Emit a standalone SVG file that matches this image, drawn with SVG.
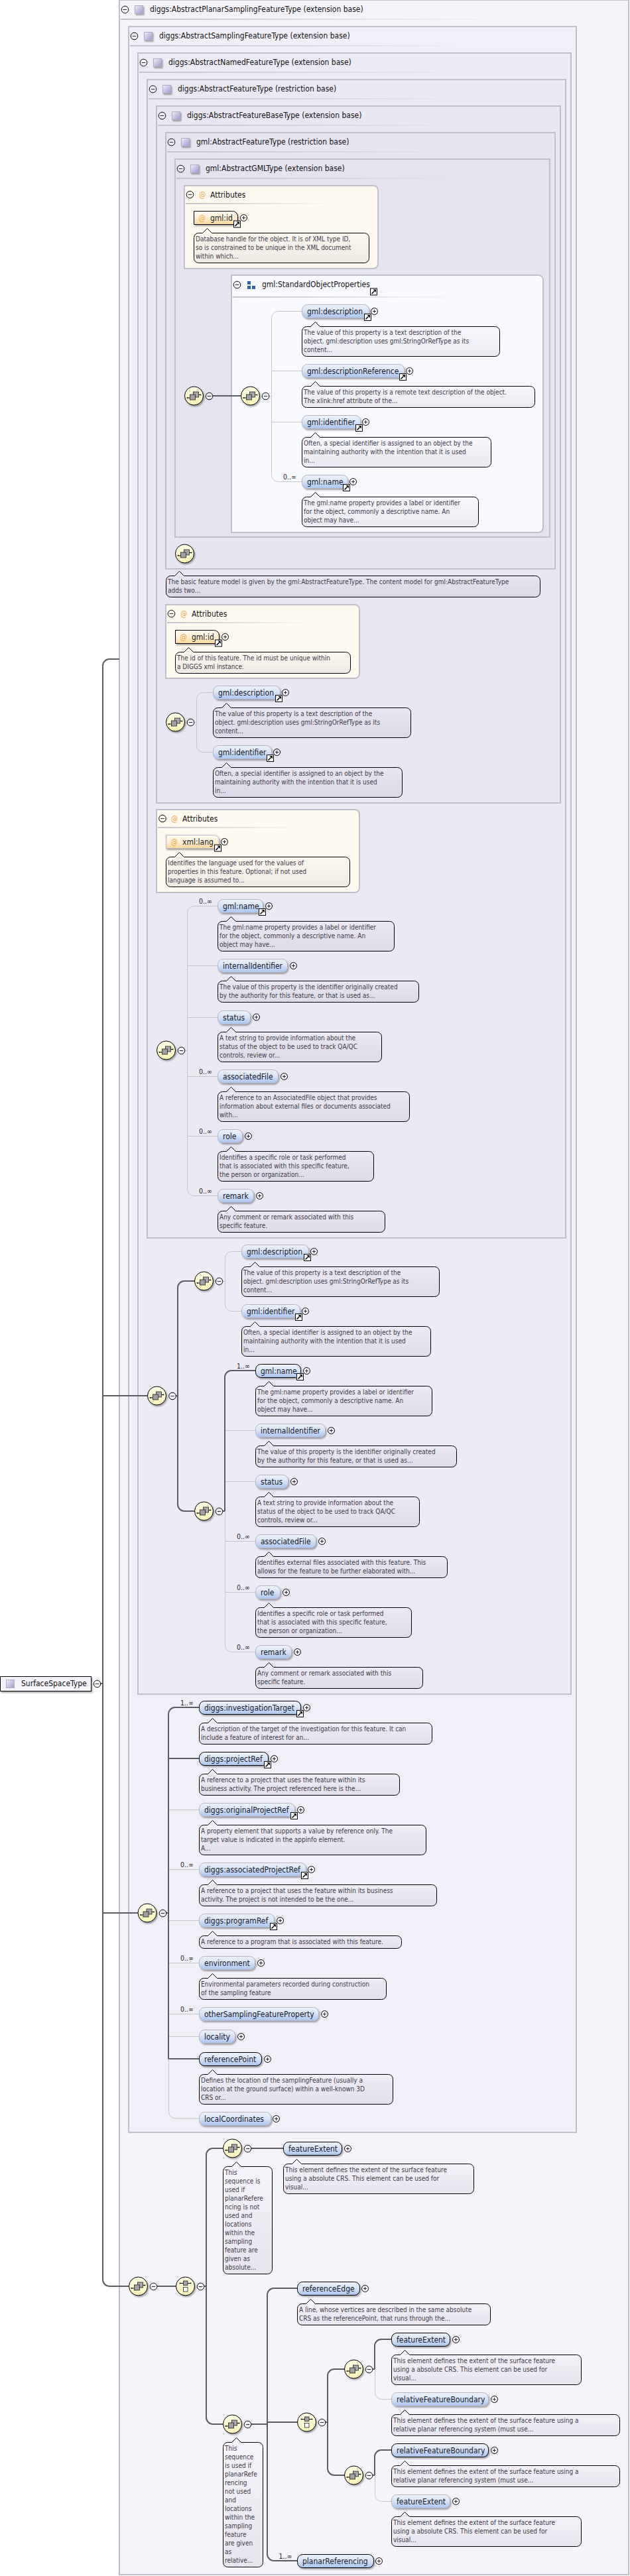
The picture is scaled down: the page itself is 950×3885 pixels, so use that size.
<svg xmlns="http://www.w3.org/2000/svg" width="950" height="3885" viewBox="0 0 950 3885">
<style>
text{font-family:"DejaVu Sans Condensed","DejaVu Sans",sans-serif}
.t{font-size:12px;fill:#111}
.l{font-size:12px;fill:#10182a}
.c{font-size:10px;fill:#3c3a48}
.m{font-size:10.5px;fill:#222}
.a{font-size:11.5px;fill:#f0a848}
.box{stroke:#c0bec6;stroke-width:2}
.r{fill:url(#ge);stroke:#000;stroke-width:1;filter:url(#s)}
.o{fill:url(#ge);stroke:#b4b4c0;stroke-width:1;filter:url(#s)}
.ra{fill:url(#ga);stroke:#000;stroke-width:1;filter:url(#s)}
.oa{fill:url(#ga);stroke:#b4b4c0;stroke-width:1;filter:url(#s)}
.b{fill:url(#gc);stroke:#000;stroke-width:1}
.sh{filter:url(#s)}
.d{fill:none;stroke:#5c5c64;stroke-width:2}
.g{fill:none;stroke:#c6c6c8;stroke-width:1}
</style>
<defs>
<filter id="s" x="-20%" y="-30%" width="150%" height="170%"><feDropShadow dx="1.5" dy="2" stdDeviation="1" flood-color="#000" flood-opacity=".35"/></filter>
<linearGradient id="ge" x1="0" y1="0" x2="0" y2="1"><stop offset="0" stop-color="#eef2fb"/><stop offset=".45" stop-color="#dbe5f7"/><stop offset="1" stop-color="#a9c4ee"/></linearGradient>
<linearGradient id="ga" x1="0" y1="0" x2="0" y2="1"><stop offset="0" stop-color="#fffcf4"/><stop offset=".5" stop-color="#ffefd4"/><stop offset="1" stop-color="#fdd69c"/></linearGradient>
<linearGradient id="gc" x1="0" y1="0" x2="0" y2="1"><stop offset="0" stop-color="#fff" stop-opacity=".12"/><stop offset="1" stop-color="#5a4a70" stop-opacity=".09"/></linearGradient>
<linearGradient id="gb" x1="0" y1="0" x2="0" y2="1"><stop offset="0" stop-color="#fdfde6"/><stop offset="1" stop-color="#f8f4b8"/></linearGradient>
<linearGradient id="gq" x1="0" y1="0" x2="1" y2="1"><stop offset="0" stop-color="#f2f0fa"/><stop offset="1" stop-color="#a094d0"/></linearGradient>
<linearGradient id="gl" x1="0" y1="0" x2="1" y2="0"><stop offset="0" stop-color="#c4c2ca"/><stop offset="1" stop-color="#c4c2ca" stop-opacity="0"/></linearGradient>
<g id="plus"><circle r="5" fill="#fff" fill-opacity=".3" stroke="#000"/><path d="M-2.5 0H2.5M0-2.5V2.5" stroke="#000" stroke-width=".8"/></g>
<g id="minus"><circle r="5.3" fill="#fff" fill-opacity=".3" stroke="#000"/><path d="M-2.8 0H2.8" stroke="#000" stroke-width=".8"/></g>
<g id="lk"><rect x="-5" y="-5" width="10" height="10" fill="#fff" stroke="#000"/><path d="M-3 3L1-1" stroke="#000" stroke-width="1.6"/><path d="M3.4-3.4H-1L3.4 1z" fill="#000"/></g>
<g id="sq"><rect x=".5" y=".5" width="12" height="12" fill="url(#gq)" stroke="#b0adbc"/></g>
<g id="seq"><circle r="14" fill="url(#gb)" stroke="#000"/><path d="M-10 3H-6M7-1.5H10" stroke="#000"/><rect x="-10.8" y="2.2" width="1.6" height="1.6"/><rect x="9.2" y="-2.3" width="1.6" height="1.6"/><rect x="-1" y="-6" width="8" height="8" fill="#a8a8a8" stroke="#222" stroke-width=".8"/><rect x="-6" y="-2" width="8" height="8" fill="#a0a0a0" stroke="#222" stroke-width=".8"/></g>
<g id="cho"><circle r="14" fill="url(#gb)" stroke="#000"/><path d="M-8-4.5H8" stroke="#000"/><rect x="-8.8" y="-5.3" width="1.6" height="1.6"/><rect x="7.2" y="-5.3" width="1.6" height="1.6"/><rect x="-3" y="-8" width="6.5" height="6.5" fill="#a0a0a0" stroke="#222" stroke-width=".8"/><rect x="-3" y="1.5" width="6.5" height="6.5" fill="#fff" stroke="#222" stroke-width=".8"/></g>
</defs>
<rect width="950" height="3885" fill="#fff"/>
<g id="type-boxes">
<g id="box-planar"><rect class="box" x="180" y="0" width="768" height="3883" fill="#f6f4fb"/><use href="#minus" x="188.5" y="14.5"/><use href="#sq" x="203" y="8" class="sh"/><text class="t" x="226" y="18">diggs:AbstractPlanarSamplingFeatureType (extension base)</text><rect x="182" y="28" width="577" height="2" fill="url(#gl)"/></g>
<g id="box-sampling"><rect class="box" x="194" y="40" width="675" height="3176" fill="#f1eff8"/><use href="#minus" x="202.5" y="54.5"/><use href="#sq" x="217" y="48" class="sh"/><text class="t" x="240" y="58">diggs:AbstractSamplingFeatureType (extension base)</text><rect x="196" y="68" width="507" height="2" fill="url(#gl)"/></g>
<g id="box-named"><rect class="box" x="208" y="80" width="653" height="2475" fill="#edebf6"/><use href="#minus" x="216.5" y="94.5"/><use href="#sq" x="231" y="88" class="sh"/><text class="t" x="254" y="98">diggs:AbstractNamedFeatureType (extension base)</text><rect x="210" y="108" width="490" height="2" fill="url(#gl)"/></g>
<g id="box-feature"><rect class="box" x="222" y="120" width="631" height="1747" fill="#ebe9f4"/><use href="#minus" x="230.5" y="134.5"/><use href="#sq" x="245" y="128" class="sh"/><text class="t" x="268" y="138">diggs:AbstractFeatureType (restriction base)</text><rect x="224" y="148" width="474" height="2" fill="url(#gl)"/></g>
<g id="box-base"><rect class="box" x="236" y="160" width="609" height="1051" fill="#e9e7f3"/><use href="#minus" x="244.5" y="174.5"/><use href="#sq" x="259" y="168" class="sh"/><text class="t" x="282" y="178">diggs:AbstractFeatureBaseType (extension base)</text><rect x="238" y="188" width="457" height="2" fill="url(#gl)"/></g>
<g id="box-gmlfeature"><rect class="box" x="250" y="200" width="587" height="658" fill="#e7e5f2"/><use href="#minus" x="258.5" y="214.5"/><use href="#sq" x="273" y="208" class="sh"/><text class="t" x="296" y="218">gml:AbstractFeatureType (restriction base)</text><rect x="252" y="228" width="427" height="2" fill="url(#gl)"/></g>
<g id="box-gml"><rect class="box" x="264" y="240" width="565" height="570" fill="#e5e3f0"/><use href="#minus" x="272.5" y="254.5"/><use href="#sq" x="287" y="248" class="sh"/><text class="t" x="310" y="258">gml:AbstractGMLType (extension base)</text><rect x="266" y="268" width="417" height="2" fill="url(#gl)"/></g>
<g id="attrs-gml"><path class="box" d="M278 280H563a7 7 0 0 1 7 7V398a7 7 0 0 1-7 7H278z" fill="#fffaf0"/><use href="#minus" x="286.5" y="293.5"/><text class="a" x="300" y="297.5">@</text><text class="t" x="317" y="297.5">Attributes</text><rect x="280" y="306" width="220" height="2" fill="url(#gl)"/></g>
<g id="attrs-base"><path class="box" d="M250 912H535a7 7 0 0 1 7 7V1016a7 7 0 0 1-7 7H250z" fill="#fffaf0"/><use href="#minus" x="258.5" y="925.5"/><text class="a" x="272" y="929.5">@</text><text class="t" x="289" y="929.5">Attributes</text><rect x="252" y="938" width="220" height="2" fill="url(#gl)"/></g>
<g id="attrs-feature"><path class="box" d="M236 1221H535a7 7 0 0 1 7 7V1339a7 7 0 0 1-7 7H236z" fill="#fffaf0"/><use href="#minus" x="245" y="1234.5"/><text class="a" x="258" y="1238.5">@</text><text class="t" x="275" y="1238.5">Attributes</text><rect x="238" y="1247" width="220" height="2" fill="url(#gl)"/></g>
<g id="group-sop"><path class="box" d="M349 415H812a7 7 0 0 1 7 7V796a7 7 0 0 1-7 7H349z" fill="#f9faff"/><use href="#minus" x="357.5" y="429.5"/><path d="M373 424h5v5h-5zM373 431h5v5h-5zM380 431h5v5h-5z" fill="#2a64b0"/><text class="t" x="395" y="433">gml:StandardObjectProperties</text><use href="#lk" x="563.5" y="440"/><rect x="351" y="447" width="352" height="2" fill="url(#gl)"/></g>
</g>
<g id="connectors">
<path class="d" d="M180 994H165a10 10 0 0 0-10 10V3438a10 10 0 0 0 10 10H194M151 2539H155M155 2105H222M155 2885H208"/>
<path class="d" d="M321 597H363"/>
<path class="g" d="M406 597.5H409.5M455 469.5H419.500a10 10 0 0 0-10 10V716.500a10 10 0 0 0 10 10H455M409.500 559.500H455M409.500 636.500H455"/>
<path class="g" d="M293 1089.500H296.500M321 1044.500H306.500a10 10 0 0 0-10 10V1124.500a10 10 0 0 0 10 10H321"/>
<path class="g" d="M278 1584.500H282.500M328 1366.500H292.500a10 10 0 0 0-10 10V1793.500a10 10 0 0 0 10 10H328M282.500 1456.500H328M282.500 1534.500H328M282.500 1623.500H328M282.500 1713.500H328"/>
<path class="d" d="M293.500 1932H278a10 10 0 0 0-10 10V2269a10 10 0 0 0 10 10H293.500M265 2105H268"/>
<path class="g" d="M336 1932.500H339.500M364 1887.500H349.500a10 10 0 0 0-10 10V1967.500a10 10 0 0 0 10 10H364"/>
<path class="d" d="M385 2067H349a10 10 0 0 0-10 10V2279M336 2279H339"/>
<path class="g" d="M339.500 2279V2481.500a10 10 0 0 0 10 10H385M340 2157.500H385M340 2234.500H385M340 2324.500H385M340 2401.500H385"/>
<path class="d" d="M300 2575H264a10 10 0 0 0-10 10V3105H300M254 2652H300M251 2885H254"/>
<path class="g" d="M254.500 3105V3185a10 10 0 0 0 10 10H300M255 2729.500H300M255 2819.500H300M255 2896.500H300M255 2960.500H300M255 3037.500H300M255 3071.500H300"/>
<path class="d" d="M237 3448H265M336 3240H321a10 10 0 0 0-10 10V3646a10 10 0 0 0 10 10H336M308 3448H311M379 3240H427"/>
<path class="d" d="M379 3656H403M448 3451H413a10 10 0 0 0-10 10V3852a10 10 0 0 0 10 10H448M403 3653H448"/>
<path class="d" d="M519 3573H504a10 10 0 0 0-10 10V3723a10 10 0 0 0 10 10H519M491 3653H494"/>
<path class="d" d="M590 3528H575a10 10 0 0 0-10 10V3573M562 3573H565M590 3695H575a10 10 0 0 0-10 10V3733M562 3733H565"/>
<path class="g" d="M565.500 3573V3608.500a10 10 0 0 0 10 10H590M565.500 3733V3762.500a10 10 0 0 0 10 10H590"/>
</g>
<g id="root-type"><rect x=".5" y="2528.500" width="137" height="22" fill="#f6f4fb" stroke="#000" class="sh"/><use href="#sq" x="9" y="2533"/><text class="t" x="32" y="2543">SurfaceSpaceType</text><use href="#minus" x="146.500" y="2539.500"/></g>
<g id="compositors">
<g id="seq-main"><use href="#seq" x="292.500" y="597" class="sh"/><use href="#minus" x="315.500" y="597.500"/></g>
<g id="seq-sop"><use href="#seq" x="377.500" y="597" class="sh"/><use href="#minus" x="400.500" y="597.500"/></g>
<g id="seq-gmlfeature"><use href="#seq" x="278.500" y="835" class="sh"/></g>
<g id="seq-base"><use href="#seq" x="264.500" y="1089" class="sh"/><use href="#minus" x="287.500" y="1089.500"/></g>
<g id="seq-feature"><use href="#seq" x="250.500" y="1584" class="sh"/><use href="#minus" x="273.500" y="1584.500"/></g>
<g id="seq-named"><use href="#seq" x="236.500" y="2105" class="sh"/><use href="#minus" x="260" y="2105.500"/></g>
<g id="seq-named-a"><use href="#seq" x="307.500" y="1932" class="sh"/><use href="#minus" x="330.500" y="1932.500"/></g>
<g id="seq-named-b"><use href="#seq" x="307.500" y="2279" class="sh"/><use href="#minus" x="330.500" y="2279.500"/></g>
<g id="seq-sampling"><use href="#seq" x="222" y="2885" class="sh"/><use href="#minus" x="245.500" y="2885.500"/></g>
<g id="seq-planar"><use href="#seq" x="208.500" y="3448" class="sh"/><use href="#minus" x="231.500" y="3448.500"/></g>
<g id="choice-planar"><use href="#cho" x="279.500" y="3448" class="sh"/><use href="#minus" x="302.500" y="3448.500"/></g>
<g id="seq-planar-a"><use href="#seq" x="350.500" y="3240" class="sh"/><use href="#minus" x="373.500" y="3240.500"/>
<path class="b" d="M343.500 3267.500h6l7-7 7 7h40a7 7 0 0 1 7 7v148a7 7 0 0 1-7 7h-60a7 7 0 0 1-7-7v-148a7 7 0 0 1 7-7z"/>
<text class="c" x="339" y="3280">This</text><text class="c" x="339" y="3293">sequence is</text><text class="c" x="339" y="3306">used if</text><text class="c" x="339" y="3319">planarRefere</text><text class="c" x="339" y="3332">ncing is not</text><text class="c" x="339" y="3345">used and</text><text class="c" x="339" y="3358">locations</text><text class="c" x="339" y="3371">within the</text><text class="c" x="339" y="3384">sampling</text><text class="c" x="339" y="3397">feature are</text><text class="c" x="339" y="3410">given as</text><text class="c" x="339" y="3423">absolute...</text></g>
<g id="seq-planar-b"><use href="#seq" x="350.500" y="3656" class="sh"/><use href="#minus" x="373.500" y="3656.500"/>
<path class="b" d="M343.500 3683.500h6l7-7 7 7h26a7 7 0 0 1 7 7v174a7 7 0 0 1-7 7h-46a7 7 0 0 1-7-7v-174a7 7 0 0 1 7-7z"/>
<text class="c" x="339" y="3696">This</text><text class="c" x="339" y="3709">sequence</text><text class="c" x="339" y="3722">is used if</text><text class="c" x="339" y="3735">planarRefe</text><text class="c" x="339" y="3748">rencing</text><text class="c" x="339" y="3761">not used</text><text class="c" x="339" y="3774">and</text><text class="c" x="339" y="3787">locations</text><text class="c" x="339" y="3800">within the</text><text class="c" x="339" y="3813">sampling</text><text class="c" x="339" y="3826">feature</text><text class="c" x="339" y="3839">are given</text><text class="c" x="339" y="3852">as</text><text class="c" x="339" y="3865">relative...</text></g>
<g id="choice-inner"><use href="#cho" x="462.500" y="3653" class="sh"/><use href="#minus" x="485.500" y="3653.500"/></g>
<g id="seq-inner-a"><use href="#seq" x="533.500" y="3573" class="sh"/><use href="#minus" x="556.500" y="3573.500"/></g>
<g id="seq-inner-b"><use href="#seq" x="533.500" y="3733" class="sh"/><use href="#minus" x="556.500" y="3733.500"/></g>
</g>
<g id="nodes">
<g id="attr-gmlid-1"><path class="ra" d="M292.500 318.500H350.500a8 8 0 0 1 8 8V338.500H292.500z"/><text class="a" x="299.500" y="332.500">@</text><text class="l" x="317" y="332.500">gml:id</text><use href="#plus" x="367.500" y="328.500"/><use href="#lk" x="357.500" y="338"/>
<path class="b" d="M299.500 351.500h6l7-7 7 7h230a7 7 0 0 1 7 7v31a7 7 0 0 1-7 7h-250a7 7 0 0 1-7-7v-31a7 7 0 0 1 7-7z"/><text class="c" x="295" y="364">Database handle for the object. It is of XML type ID,</text><text class="c" x="295" y="377">so is constrained to be unique in the XML document</text><text class="c" x="295" y="390">within which...</text></g>
<g id="sop-description"><rect class="o" x="455.500" y="459.500" width="101" height="20" rx="8"/><text class="l" x="463" y="473.500">gml:description</text><use href="#plus" x="564.500" y="469.500"/><use href="#lk" x="554.500" y="478.500"/>
<path class="b" d="M462.500 492.500h6l7-7 7 7h264a7 7 0 0 1 7 7v31a7 7 0 0 1-7 7h-284a7 7 0 0 1-7-7v-31a7 7 0 0 1 7-7z"/><text class="c" x="458" y="505">The value of this property is a text description of the</text><text class="c" x="458" y="518">object. gml:description uses gml:StringOrRefType as its</text><text class="c" x="458" y="531">content...</text></g>
<g id="sop-descriptionReference"><rect class="o" x="455.500" y="549.500" width="154" height="20" rx="8"/><text class="l" x="463" y="563.500">gml:descriptionReference</text><use href="#plus" x="617.500" y="559.500"/><use href="#lk" x="607.500" y="568.500"/>
<path class="b" d="M462.500 582.500h6l7-7 7 7h317a7 7 0 0 1 7 7v18a7 7 0 0 1-7 7h-337a7 7 0 0 1-7-7v-18a7 7 0 0 1 7-7z"/><text class="c" x="458" y="595">The value of this property is a remote text description of the object.</text><text class="c" x="458" y="608">The xlink:href attribute of the...</text></g>
<g id="sop-identifier"><rect class="o" x="455.500" y="626.500" width="88" height="20" rx="8"/><text class="l" x="463" y="640.500">gml:identifier</text><use href="#plus" x="551.500" y="636.500"/><use href="#lk" x="541.500" y="645.500"/>
<path class="b" d="M462.500 659.500h6l7-7 7 7h251a7 7 0 0 1 7 7v31a7 7 0 0 1-7 7h-271a7 7 0 0 1-7-7v-31a7 7 0 0 1 7-7z"/><text class="c" x="458" y="672">Often, a special identifier is assigned to an object by the</text><text class="c" x="458" y="685">maintaining authority with the intention that it is used</text><text class="c" x="458" y="698">in...</text></g>
<g id="sop-name"><text class="m" x="427" y="723">0..∞</text><rect class="o" x="455.500" y="716.500" width="69" height="20" rx="8"/><text class="l" x="463" y="730.500">gml:name</text><use href="#plus" x="532.500" y="726.500"/><use href="#lk" x="522.500" y="735.500"/>
<path class="b" d="M462.500 749.500h6l7-7 7 7h232a7 7 0 0 1 7 7v31a7 7 0 0 1-7 7h-252a7 7 0 0 1-7-7v-31a7 7 0 0 1 7-7z"/><text class="c" x="458" y="762">The gml:name property provides a label or identifier</text><text class="c" x="458" y="775">for the object, commonly a descriptive name. An</text><text class="c" x="458" y="788">object may have...</text></g>
<g id="comment-base"><path class="b" d="M257.500 868.500h6l7-7 7 7h530a7 7 0 0 1 7 7v18a7 7 0 0 1-7 7h-550a7 7 0 0 1-7-7v-18a7 7 0 0 1 7-7z"/><text class="c" x="253" y="881">The basic feature model is given by the gml:AbstractFeatureType. The content model for gml:AbstractFeatureType</text><text class="c" x="253" y="894">adds two...</text></g>
<g id="attr-gmlid-2"><path class="ra" d="M264.500 950.500H322.500a8 8 0 0 1 8 8V970.500H264.500z"/><text class="a" x="271.500" y="964.500">@</text><text class="l" x="289" y="964.500">gml:id</text><use href="#plus" x="339.500" y="960.500"/><use href="#lk" x="329.500" y="970"/>
<path class="b" d="M271.500 983.500h6l7-7 7 7h230a7 7 0 0 1 7 7v18a7 7 0 0 1-7 7h-250a7 7 0 0 1-7-7v-18a7 7 0 0 1 7-7z"/><text class="c" x="267" y="996">The id of this feature. The id must be unique within</text><text class="c" x="267" y="1009">a DIGGS xml instance.</text></g>
<g id="base-description"><rect class="o" x="321.500" y="1034.500" width="101" height="20" rx="8"/><text class="l" x="329" y="1048.500">gml:description</text><use href="#plus" x="430.500" y="1044.500"/><use href="#lk" x="420.500" y="1053.500"/>
<path class="b" d="M328.500 1067.500h6l7-7 7 7h264a7 7 0 0 1 7 7v31a7 7 0 0 1-7 7h-284a7 7 0 0 1-7-7v-31a7 7 0 0 1 7-7z"/><text class="c" x="324" y="1080">The value of this property is a text description of the</text><text class="c" x="324" y="1093">object. gml:description uses gml:StringOrRefType as its</text><text class="c" x="324" y="1106">content...</text></g>
<g id="base-identifier"><rect class="o" x="321.500" y="1124.500" width="88" height="20" rx="8"/><text class="l" x="329" y="1138.500">gml:identifier</text><use href="#plus" x="417.500" y="1134.500"/><use href="#lk" x="407.500" y="1143.500"/>
<path class="b" d="M328.500 1157.500h6l7-7 7 7h251a7 7 0 0 1 7 7v31a7 7 0 0 1-7 7h-271a7 7 0 0 1-7-7v-31a7 7 0 0 1 7-7z"/><text class="c" x="324" y="1170">Often, a special identifier is assigned to an object by the</text><text class="c" x="324" y="1183">maintaining authority with the intention that it is used</text><text class="c" x="324" y="1196">in...</text></g>
<g id="attr-xmllang"><path class="oa" d="M250.500 1259.500H322.500a8 8 0 0 1 8 8V1279.500H250.500z"/><text class="a" x="257.500" y="1273.500">@</text><text class="l" x="275" y="1273.500">xml:lang</text><use href="#plus" x="338.500" y="1269.500"/><use href="#lk" x="328.500" y="1279"/>
<path class="b" d="M257.500 1292.500h6l7-7 7 7h243a7 7 0 0 1 7 7v31a7 7 0 0 1-7 7h-263a7 7 0 0 1-7-7v-31a7 7 0 0 1 7-7z"/><text class="c" x="253" y="1305">Identifies the language used for the values of</text><text class="c" x="253" y="1318">properties in this feature. Optional; if not used</text><text class="c" x="253" y="1331">language is assumed to...</text></g>
<g id="feat-name"><text class="m" x="300" y="1363">0..∞</text><rect class="o" x="328.500" y="1356.500" width="68" height="20" rx="8"/><text class="l" x="336" y="1370.500">gml:name</text><use href="#plus" x="405.500" y="1366.500"/><use href="#lk" x="395.500" y="1375.500"/>
<path class="b" d="M335.500 1389.500h6l7-7 7 7h232a7 7 0 0 1 7 7v31a7 7 0 0 1-7 7h-252a7 7 0 0 1-7-7v-31a7 7 0 0 1 7-7z"/><text class="c" x="331" y="1402">The gml:name property provides a label or identifier</text><text class="c" x="331" y="1415">for the object, commonly a descriptive name. An</text><text class="c" x="331" y="1428">object may have...</text></g>
<g id="feat-internalIdentifier"><rect class="o" x="328.500" y="1446.500" width="105" height="20" rx="8"/><text class="l" x="336" y="1460.500">internalIdentifier</text><use href="#plus" x="442.500" y="1456.500"/>
<path class="b" d="M335.500 1479.500h6l7-7 7 7h269a7 7 0 0 1 7 7v18a7 7 0 0 1-7 7h-289a7 7 0 0 1-7-7v-18a7 7 0 0 1 7-7z"/><text class="c" x="331" y="1492">The value of this property is the identifier originally created</text><text class="c" x="331" y="1505">by the authority for this feature, or that is used as...</text></g>
<g id="feat-status"><rect class="o" x="328.500" y="1524.500" width="49" height="20" rx="8"/><text class="l" x="336" y="1538.500">status</text><use href="#plus" x="386.500" y="1534"/>
<path class="b" d="M335.500 1556.500h6l7-7 7 7h213a7 7 0 0 1 7 7v31a7 7 0 0 1-7 7h-233a7 7 0 0 1-7-7v-31a7 7 0 0 1 7-7z"/><text class="c" x="331" y="1569">A text string to provide information about the</text><text class="c" x="331" y="1582">status of the object to be used to track QA/QC</text><text class="c" x="331" y="1595">controls, review or...</text></g>
<g id="feat-associatedFile"><text class="m" x="300" y="1620">0..∞</text><rect class="o" x="328.500" y="1613.500" width="91" height="20" rx="8"/><text class="l" x="336" y="1627.500">associatedFile</text><use href="#plus" x="428.500" y="1623.500"/>
<path class="b" d="M335.500 1646.500h6l7-7 7 7h255a7 7 0 0 1 7 7v31a7 7 0 0 1-7 7h-275a7 7 0 0 1-7-7v-31a7 7 0 0 1 7-7z"/><text class="c" x="331" y="1659">A reference to an AssociatedFile object that provides</text><text class="c" x="331" y="1672">information about external files or documents associated</text><text class="c" x="331" y="1685">with...</text></g>
<g id="feat-role"><text class="m" x="300" y="1710">0..∞</text><rect class="o" x="328.500" y="1703.500" width="37" height="20" rx="8"/><text class="l" x="336" y="1717.500">role</text><use href="#plus" x="374.500" y="1713.500"/>
<path class="b" d="M335.500 1736.500h6l7-7 7 7h201a7 7 0 0 1 7 7v31a7 7 0 0 1-7 7h-221a7 7 0 0 1-7-7v-31a7 7 0 0 1 7-7z"/><text class="c" x="331" y="1749">Identifies a specific role or task performed</text><text class="c" x="331" y="1762">that is associated with this specific feature,</text><text class="c" x="331" y="1775">the person or organization...</text></g>
<g id="feat-remark"><text class="m" x="300" y="1800">0..∞</text><rect class="o" x="328.500" y="1793.500" width="54" height="20" rx="8"/><text class="l" x="336" y="1807.500">remark</text><use href="#plus" x="391.500" y="1803.500"/>
<path class="b" d="M335.500 1826.500h6l7-7 7 7h218a7 7 0 0 1 7 7v18a7 7 0 0 1-7 7h-238a7 7 0 0 1-7-7v-18a7 7 0 0 1 7-7z"/><text class="c" x="331" y="1839">Any comment or remark associated with this</text><text class="c" x="331" y="1852">specific feature.</text></g>
<g id="named-description"><rect class="o" x="364.500" y="1877.500" width="101" height="20" rx="8"/><text class="l" x="372" y="1891.500">gml:description</text><use href="#plus" x="473.500" y="1887.500"/><use href="#lk" x="463.500" y="1896.500"/>
<path class="b" d="M371.500 1910.500h6l7-7 7 7h264a7 7 0 0 1 7 7v31a7 7 0 0 1-7 7h-284a7 7 0 0 1-7-7v-31a7 7 0 0 1 7-7z"/><text class="c" x="367" y="1923">The value of this property is a text description of the</text><text class="c" x="367" y="1936">object. gml:description uses gml:StringOrRefType as its</text><text class="c" x="367" y="1949">content...</text></g>
<g id="named-identifier"><rect class="o" x="364.500" y="1967.500" width="88" height="20" rx="8"/><text class="l" x="372" y="1981.500">gml:identifier</text><use href="#plus" x="460.500" y="1977.500"/><use href="#lk" x="450.500" y="1986.500"/>
<path class="b" d="M371.500 2000.500h6l7-7 7 7h251a7 7 0 0 1 7 7v31a7 7 0 0 1-7 7h-271a7 7 0 0 1-7-7v-31a7 7 0 0 1 7-7z"/><text class="c" x="367" y="2013">Often, a special identifier is assigned to an object by the</text><text class="c" x="367" y="2026">maintaining authority with the intention that it is used</text><text class="c" x="367" y="2039">in...</text></g>
<g id="named-name"><text class="m" x="357" y="2064">1..∞</text><rect class="r" x="385.500" y="2057.500" width="68" height="20" rx="8"/><text class="l" x="393" y="2071.500">gml:name</text><use href="#plus" x="462.500" y="2067.500"/><use href="#lk" x="452.500" y="2076.500"/>
<path class="b" d="M392.500 2090.500h6l7-7 7 7h232a7 7 0 0 1 7 7v31a7 7 0 0 1-7 7h-252a7 7 0 0 1-7-7v-31a7 7 0 0 1 7-7z"/><text class="c" x="388" y="2103">The gml:name property provides a label or identifier</text><text class="c" x="388" y="2116">for the object, commonly a descriptive name. An</text><text class="c" x="388" y="2129">object may have...</text></g>
<g id="named-internalIdentifier"><rect class="o" x="385.500" y="2147.500" width="105" height="20" rx="8"/><text class="l" x="393" y="2161.500">internalIdentifier</text><use href="#plus" x="499.500" y="2157.500"/>
<path class="b" d="M392.500 2180.500h6l7-7 7 7h269a7 7 0 0 1 7 7v18a7 7 0 0 1-7 7h-289a7 7 0 0 1-7-7v-18a7 7 0 0 1 7-7z"/><text class="c" x="388" y="2193">The value of this property is the identifier originally created</text><text class="c" x="388" y="2206">by the authority for this feature, or that is used as...</text></g>
<g id="named-status"><rect class="o" x="385.500" y="2224.500" width="49" height="20" rx="8"/><text class="l" x="393" y="2238.500">status</text><use href="#plus" x="443.500" y="2234.500"/>
<path class="b" d="M392.500 2257.500h6l7-7 7 7h213a7 7 0 0 1 7 7v31a7 7 0 0 1-7 7h-233a7 7 0 0 1-7-7v-31a7 7 0 0 1 7-7z"/><text class="c" x="388" y="2270">A text string to provide information about the</text><text class="c" x="388" y="2283">status of the object to be used to track QA/QC</text><text class="c" x="388" y="2296">controls, review or...</text></g>
<g id="named-associatedFile"><text class="m" x="357" y="2321">0..∞</text><rect class="o" x="385.500" y="2314.500" width="91" height="20" rx="8"/><text class="l" x="393" y="2328.500">associatedFile</text><use href="#plus" x="485.500" y="2324.500"/>
<path class="b" d="M392.500 2347.500h6l7-7 7 7h255a7 7 0 0 1 7 7v18a7 7 0 0 1-7 7h-275a7 7 0 0 1-7-7v-18a7 7 0 0 1 7-7z"/><text class="c" x="388" y="2360">Identifies external files associated with this feature. This</text><text class="c" x="388" y="2373">allows for the feature to be further elaborated with...</text></g>
<g id="named-role"><text class="m" x="357" y="2398">0..∞</text><rect class="o" x="385.500" y="2391.500" width="37" height="20" rx="8"/><text class="l" x="393" y="2405.500">role</text><use href="#plus" x="431.500" y="2401.500"/>
<path class="b" d="M392.500 2424.500h6l7-7 7 7h201a7 7 0 0 1 7 7v31a7 7 0 0 1-7 7h-221a7 7 0 0 1-7-7v-31a7 7 0 0 1 7-7z"/><text class="c" x="388" y="2437">Identifies a specific role or task performed</text><text class="c" x="388" y="2450">that is associated with this specific feature,</text><text class="c" x="388" y="2463">the person or organization...</text></g>
<g id="named-remark"><text class="m" x="357" y="2488">0..∞</text><rect class="o" x="385.500" y="2481.500" width="54" height="20" rx="8"/><text class="l" x="393" y="2495.500">remark</text><use href="#plus" x="448.500" y="2491.500"/>
<path class="b" d="M392.500 2514.500h6l7-7 7 7h218a7 7 0 0 1 7 7v18a7 7 0 0 1-7 7h-238a7 7 0 0 1-7-7v-18a7 7 0 0 1 7-7z"/><text class="c" x="388" y="2527">Any comment or remark associated with this</text><text class="c" x="388" y="2540">specific feature.</text></g>
<g id="investigationTarget"><text class="m" x="272" y="2572">1..∞</text><rect class="r" x="300.500" y="2565.500" width="153" height="20" rx="8"/><text class="l" x="308" y="2579.500">diggs:investigationTarget</text><use href="#plus" x="462.500" y="2575.500"/><use href="#lk" x="452.500" y="2584.500"/>
<path class="b" d="M307.500 2598.500h6l7-7 7 7h317a7 7 0 0 1 7 7v18a7 7 0 0 1-7 7h-337a7 7 0 0 1-7-7v-18a7 7 0 0 1 7-7z"/><text class="c" x="303" y="2611">A description of the target of the investigation for this feature. It can</text><text class="c" x="303" y="2624">include a feature of interest for an...</text></g>
<g id="projectRef"><rect class="r" x="300.500" y="2642.500" width="104" height="20" rx="8"/><text class="l" x="308" y="2656.500">diggs:projectRef</text><use href="#plus" x="413.500" y="2652.500"/><use href="#lk" x="403.500" y="2661.500"/>
<path class="b" d="M307.500 2675.500h6l7-7 7 7h268a7 7 0 0 1 7 7v18a7 7 0 0 1-7 7h-288a7 7 0 0 1-7-7v-18a7 7 0 0 1 7-7z"/><text class="c" x="303" y="2688">A reference to a project that uses the feature within its</text><text class="c" x="303" y="2701">business activity. The project referenced here is the...</text></g>
<g id="originalProjectRef"><rect class="o" x="300.500" y="2719.500" width="144" height="20" rx="8"/><text class="l" x="308" y="2733.500">diggs:originalProjectRef</text><use href="#plus" x="453.500" y="2729.500"/><use href="#lk" x="443.500" y="2738.500"/>
<path class="b" d="M307.500 2752.500h6l7-7 7 7h308a7 7 0 0 1 7 7v31a7 7 0 0 1-7 7h-328a7 7 0 0 1-7-7v-31a7 7 0 0 1 7-7z"/><text class="c" x="303" y="2765">A property element that supports a value by reference only. The</text><text class="c" x="303" y="2778">target value is indicated in the appinfo element.</text><text class="c" x="303" y="2791">A...</text></g>
<g id="associatedProjectRef"><text class="m" x="272" y="2816">0..∞</text><rect class="o" x="300.500" y="2809.500" width="161" height="20" rx="8"/><text class="l" x="308" y="2823.500">diggs:associatedProjectRef</text><use href="#plus" x="469.500" y="2819.500"/><use href="#lk" x="459.500" y="2828.500"/>
<path class="b" d="M307.500 2842.500h6l7-7 7 7h324a7 7 0 0 1 7 7v18a7 7 0 0 1-7 7h-344a7 7 0 0 1-7-7v-18a7 7 0 0 1 7-7z"/><text class="c" x="303" y="2855">A reference to a project that uses the feature within its business</text><text class="c" x="303" y="2868">activity. The project is not intended to be the one...</text></g>
<g id="programRef"><rect class="o" x="300.500" y="2886.500" width="113" height="20" rx="8"/><text class="l" x="308" y="2900.500">diggs:programRef</text><use href="#plus" x="422.500" y="2896.500"/><use href="#lk" x="412.500" y="2905.500"/>
<path class="b" d="M307.500 2919.500h6l7-7 7 7h271a7 7 0 0 1 7 7v5a7 7 0 0 1-7 7h-291a7 7 0 0 1-7-7v-5a7 7 0 0 1 7-7z"/><text class="c" x="303" y="2932">A reference to a program that is associated with this feature.</text></g>
<g id="environment"><text class="m" x="272" y="2957">0..∞</text><rect class="o" x="300.500" y="2950.500" width="84" height="20" rx="8"/><text class="l" x="308" y="2964.500">environment</text><use href="#plus" x="393.500" y="2960.500"/>
<path class="b" d="M307.500 2983.500h6l7-7 7 7h248a7 7 0 0 1 7 7v18a7 7 0 0 1-7 7h-268a7 7 0 0 1-7-7v-18a7 7 0 0 1 7-7z"/><text class="c" x="303" y="2996">Environmental parameters recorded during construction</text><text class="c" x="303" y="3009">of the sampling feature</text></g>
<g id="otherSamplingFeatureProperty"><text class="m" x="272" y="3034">0..∞</text><rect class="o" x="300.500" y="3027.500" width="180" height="20" rx="8"/><text class="l" x="308" y="3041.500">otherSamplingFeatureProperty</text><use href="#plus" x="489.500" y="3037.500"/></g>
<g id="locality"><rect class="o" x="300.500" y="3061.500" width="54" height="20" rx="8"/><text class="l" x="308" y="3075.500">locality</text><use href="#plus" x="363.500" y="3071.500"/></g>
<g id="referencePoint"><rect class="r" x="300.500" y="3095.500" width="94" height="20" rx="8"/><text class="l" x="308" y="3109.500">referencePoint</text><use href="#plus" x="403.500" y="3105.500"/>
<path class="b" d="M307.500 3128.500h6l7-7 7 7h258a7 7 0 0 1 7 7v31a7 7 0 0 1-7 7h-278a7 7 0 0 1-7-7v-31a7 7 0 0 1 7-7z"/><text class="c" x="303" y="3141">Defines the location of the samplingFeature (usually a</text><text class="c" x="303" y="3154">location at the ground surface) within a well-known 3D</text><text class="c" x="303" y="3167">CRS or...</text></g>
<g id="localCoordinates"><rect class="o" x="300.500" y="3185.500" width="108" height="20" rx="8"/><text class="l" x="308" y="3199.500">localCoordinates</text><use href="#plus" x="416.500" y="3195.500"/></g>
<g id="featureExtent-a"><rect class="r" x="427.500" y="3230.500" width="88" height="20" rx="8"/><text class="l" x="435" y="3244.500">featureExtent</text><use href="#plus" x="524.500" y="3240.500"/>
<path class="b" d="M434.500 3263.500h6l7-7 7 7h253a7 7 0 0 1 7 7v31a7 7 0 0 1-7 7h-273a7 7 0 0 1-7-7v-31a7 7 0 0 1 7-7z"/><text class="c" x="430" y="3276">This element defines the extent of the surface feature</text><text class="c" x="430" y="3289">using a absolute CRS. This element can be used for</text><text class="c" x="430" y="3302">visual...</text></g>
<g id="referenceEdge"><rect class="r" x="448.500" y="3441.500" width="94" height="20" rx="8"/><text class="l" x="456" y="3455.500">referenceEdge</text><use href="#plus" x="550.500" y="3451.500"/>
<path class="b" d="M455.500 3474.500h6l7-7 7 7h257a7 7 0 0 1 7 7v18a7 7 0 0 1-7 7h-277a7 7 0 0 1-7-7v-18a7 7 0 0 1 7-7z"/><text class="c" x="451" y="3487">A line, whose vertices are described in the same absolute</text><text class="c" x="451" y="3500">CRS as the referencePoint, that runs through the...</text></g>
<g id="featureExtent-b"><rect class="r" x="590.500" y="3518.500" width="88" height="20" rx="8"/><text class="l" x="598" y="3532.500">featureExtent</text><use href="#plus" x="687.500" y="3528.500"/>
<path class="b" d="M597.500 3551.500h6l7-7 7 7h252a7 7 0 0 1 7 7v31a7 7 0 0 1-7 7h-272a7 7 0 0 1-7-7v-31a7 7 0 0 1 7-7z"/><text class="c" x="593" y="3564">This element defines the extent of the surface feature</text><text class="c" x="593" y="3577">using a absolute CRS. This element can be used for</text><text class="c" x="593" y="3590">visual...</text></g>
<g id="relativeFeatureBoundary-a"><rect class="o" x="590.500" y="3608.500" width="146" height="20" rx="8"/><text class="l" x="598" y="3622.500">relativeFeatureBoundary</text><use href="#plus" x="745.500" y="3618.500"/>
<path class="b" d="M597.500 3641.500h6l7-7 7 7h310a7 7 0 0 1 7 7v18a7 7 0 0 1-7 7h-330a7 7 0 0 1-7-7v-18a7 7 0 0 1 7-7z"/><text class="c" x="593" y="3654">This element defines the extent of the surface feature using a</text><text class="c" x="593" y="3667">relative planar referencing system (must use...</text></g>
<g id="relativeFeatureBoundary-b"><rect class="r" x="590.500" y="3685.500" width="146" height="20" rx="8"/><text class="l" x="598" y="3699.500">relativeFeatureBoundary</text><use href="#plus" x="745.500" y="3695.500"/>
<path class="b" d="M597.500 3718.500h6l7-7 7 7h310a7 7 0 0 1 7 7v18a7 7 0 0 1-7 7h-330a7 7 0 0 1-7-7v-18a7 7 0 0 1 7-7z"/><text class="c" x="593" y="3731">This element defines the extent of the surface feature using a</text><text class="c" x="593" y="3744">relative planar referencing system (must use...</text></g>
<g id="featureExtent-c"><rect class="o" x="590.500" y="3762.500" width="88" height="20" rx="8"/><text class="l" x="598" y="3776.500">featureExtent</text><use href="#plus" x="687.500" y="3772.500"/>
<path class="b" d="M597.500 3795.500h6l7-7 7 7h252a7 7 0 0 1 7 7v31a7 7 0 0 1-7 7h-272a7 7 0 0 1-7-7v-31a7 7 0 0 1 7-7z"/><text class="c" x="593" y="3808">This element defines the extent of the surface feature</text><text class="c" x="593" y="3821">using a absolute CRS. This element can be used for</text><text class="c" x="593" y="3834">visual...</text></g>
<g id="planarReferencing"><text class="m" x="420.500" y="3859">1..∞</text><rect class="r" x="448.500" y="3852.500" width="115" height="20" rx="8"/><text class="l" x="456" y="3866.500">planarReferencing</text><use href="#plus" x="571.500" y="3862.500"/></g>
</g>
</svg>
